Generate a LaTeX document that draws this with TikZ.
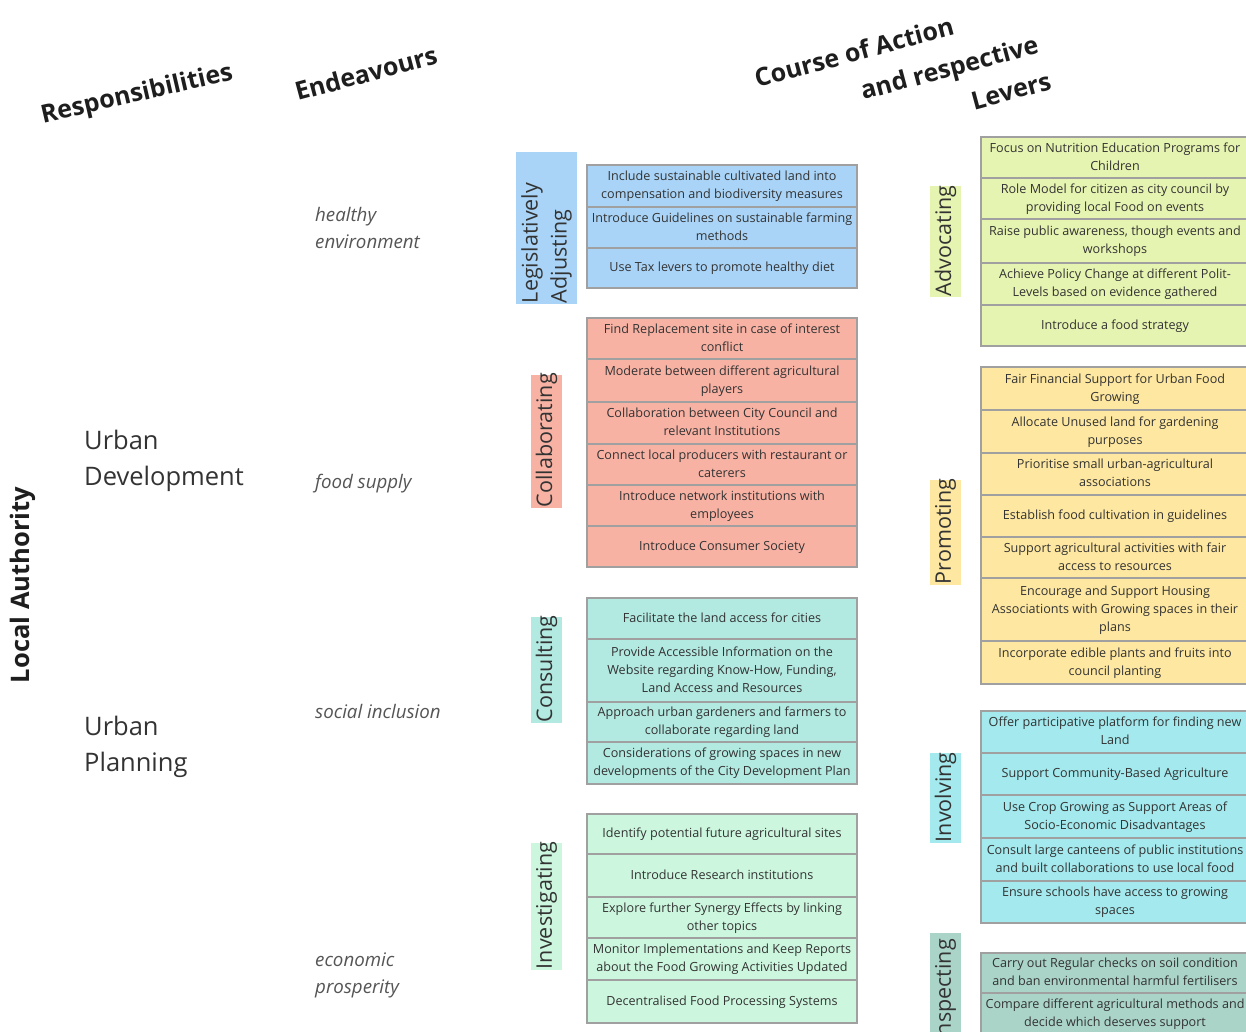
\documentclass[tikz,border=0pt]{standalone}
\usepackage{fontspec}
\setmainfont{Open Sans}
\definecolor{txt}{RGB}{51,51,51}
\definecolor{hdr}{RGB}{30,30,30}
\definecolor{itxt}{RGB}{85,85,85}
\definecolor{bord}{RGB}{160,160,160}
\definecolor{cblue}{RGB}{169,212,247}
\definecolor{csalmon}{RGB}{248,178,164}
\definecolor{cteal}{RGB}{178,233,225}
\definecolor{cmint}{RGB}{204,247,222}
\definecolor{cadv}{RGB}{230,244,177}
\definecolor{cprom}{RGB}{254,231,160}
\definecolor{cinv}{RGB}{163,233,237}
\definecolor{cinsp}{RGB}{170,212,200}
\newcommand\abox[6]{%
  \pgfmathsetmacro\bcy{(#3+#4)/2}%
  \pgfmathsetmacro\bh{#4-#3}%
  \node[#5, minimum height=\bh pt] (#1) at (#2,\bcy) {\raisebox{-2pt}{\begin{tabular}{@{}c@{}}#6\end{tabular}}};}
\newcommand\alabel[7]{% name, cx, top, bottom, width, fill, text
  \pgfmathsetmacro\lcy{(#3+#4)/2}%
  \pgfmathsetmacro\lh{#4-#3}%
  \pgfmathsetmacro\lt{#4-#3-2}%
  \node[vlabel, fill=#6, text width=\lt pt, minimum width=\lh pt, minimum height=#5pt] (#1) at (#2,\lcy) {#7};}
\tikzset{
  boxbase/.style={draw=bord, line width=1.3pt, align=center, inner sep=0pt, text=txt,
    font=\fontsize{12.6}{18}\selectfont},
  midbox/.style={boxbase, minimum width=270pt},
  rbox/.style={boxbase, minimum width=268pt},
  vlabel/.style={rotate=90, inner xsep=1pt, inner ysep=0pt, align=left, text=txt,
    font=\fontsize{21.5}{29}\selectfont},
  header/.style={font=\fontsize{25}{30}\selectfont\bfseries, text=hdr, inner sep=0pt},
  resp/.style={font=\fontsize{25.5}{36}\selectfont, text=txt, align=left, inner sep=0pt, anchor=west},
  endv/.style={font=\fontsize{18.7}{27}\selectfont\itshape, text=itxt, align=left, inner sep=0pt, anchor=west},
}
\begin{document}
\begin{tikzpicture}[x=1pt, y=-1pt]
\useasboundingbox (0,0) rectangle (1246,1031);
\fill[white] (0,0) rectangle (1246,1031);
\clip (0,0) rectangle (1246,1031);

% headers
\node[header, rotate=13] (hresp) at (137,95) {Responsibilities};
\node[header, rotate=15] (hend) at (366,73) {Endeavours};
\node[header, rotate=15] (hcoa1) at (854,52) {Course of Action};
\node[header, rotate=15] (hcoa2) at (950,70) {and respective};
\node[header, rotate=15] (hcoa3) at (1011,91) {Levers};

% left column
\node[font=\fontsize{25.5}{30}\selectfont\bfseries, text=hdr, rotate=90, inner sep=0pt] (la) at (23,585) {Local Authority};
\node[resp] (ud) at (84,461) {Urban\\Development};
\node[resp] (up) at (84,747) {Urban\\Planning};

\node[endv] (e1) at (315,228) {healthy\\environment};
\node[endv] (e2) at (315,484) {food supply};
\node[endv] (e3) at (315,711) {social inclusion};
\node[endv] (e4) at (315,975) {economic\\prosperity};

% middle labels
\alabel{lleg}{546.5}{152}{304}{61}{cblue}{Legislatively\\Adjusting}
\alabel{lcol}{546.5}{375}{508}{31}{csalmon}{Collaborating}
\alabel{lcon}{546.5}{617}{723}{31}{cteal}{Consulting}
\alabel{linv}{546.5}{843}{970}{31}{cmint}{Investigating}

% right labels
\alabel{ladv}{945.5}{186}{297}{31}{cadv}{Advocating}
\alabel{lpro}{945.5}{480}{585}{31}{cprom}{Promoting}
\alabel{linl}{945.5}{753}{843}{31}{cinv}{Involving}
\alabel{lins}{945.5}{933}{1043}{31}{cinsp}{Inspecting}

% middle boxes
\abox{b1}{722}{165}{207}{midbox, fill=cblue}{Include sustainable cultivated land into\\compensation and biodiversity measures}
\abox{b2}{722}{207}{248}{midbox, fill=cblue}{Introduce Guidelines on sustainable farming\\methods}
\abox{b3}{722}{248}{288}{midbox, fill=cblue}{Use Tax levers to promote healthy diet}

\abox{c1}{722}{318}{359}{midbox, fill=csalmon}{Find Replacement site in case of interest\\conflict}
\abox{c2}{722}{359}{402}{midbox, fill=csalmon}{Moderate between different agricultural\\players}
\abox{c3}{722}{402}{444}{midbox, fill=csalmon}{Collaboration between City Council and\\relevant Institutions}
\abox{c4}{722}{444}{485}{midbox, fill=csalmon}{Connect local producers with restaurant or\\caterers}
\abox{c5}{722}{485}{526}{midbox, fill=csalmon}{Introduce network institutions with\\employees}
\abox{c6}{722}{526}{567}{midbox, fill=csalmon}{Introduce Consumer Society}

\abox{d1}{722}{598}{639}{midbox, fill=cteal}{Facilitate the land access for cities}
\abox{d2}{722}{639}{702}{midbox, fill=cteal}{Provide Accessible Information on the\\Website regarding Know-How, Funding,\\Land Access and Resources}
\abox{d3}{722}{702}{742}{midbox, fill=cteal}{Approach urban gardeners and farmers to\\collaborate regarding land}
\abox{d4}{722}{742}{784}{midbox, fill=cteal}{Considerations of growing spaces in new\\developments of the City Development Plan}

\abox{i1}{722}{814}{854}{midbox, fill=cmint}{Identify potential future agricultural sites}
\abox{i2}{722}{854}{897}{midbox, fill=cmint}{Introduce Research institutions}
\abox{i3}{722}{897}{938}{midbox, fill=cmint}{Explore further Synergy Effects by linking\\other topics}
\abox{i4}{722}{938}{980}{midbox, fill=cmint}{Monitor Implementations and Keep Reports\\about the Food Growing Activities Updated}
\abox{i5}{722}{980}{1023}{midbox, fill=cmint}{Decentralised Food Processing Systems}

% right boxes
\abox{a1}{1115}{137}{178}{rbox, fill=cadv}{Focus on Nutrition Education Programs for\\Children}
\abox{a2}{1115}{178}{219}{rbox, fill=cadv}{Role Model for citizen as city council by\\providing local Food on events}
\abox{a3}{1115}{219}{263}{rbox, fill=cadv}{Raise public awareness, though events and\\workshops}
\abox{a4}{1115}{263}{305}{rbox, fill=cadv}{Achieve Policy Change at different Polit-\\Levels based on evidence gathered}
\abox{a5}{1115}{305}{346}{rbox, fill=cadv}{Introduce a food strategy}

\abox{p1}{1115}{367}{410}{rbox, fill=cprom}{Fair Financial Support for Urban Food\\Growing}
\abox{p2}{1115}{410}{453}{rbox, fill=cprom}{Allocate Unused land for gardening\\purposes}
\abox{p3}{1115}{453}{495}{rbox, fill=cprom}{Prioritise small urban-agricultural\\associations}
\abox{p4}{1115}{495}{537}{rbox, fill=cprom}{Establish food cultivation in guidelines}
\abox{p5}{1115}{537}{578}{rbox, fill=cprom}{Support agricultural activities with fair\\access to resources}
\abox{p6}{1115}{578}{641}{rbox, fill=cprom}{Encourage and Support Housing\\Associationts with Growing spaces in their\\plans}
\abox{p7}{1115}{641}{684}{rbox, fill=cprom}{Incorporate edible plants and fruits into\\council planting}

\abox{v1}{1115}{711}{753}{rbox, fill=cinv}{Offer participative platform for finding new\\Land}
\abox{v2}{1115}{753}{795}{rbox, fill=cinv}{Support Community-Based Agriculture}
\abox{v3}{1115}{795}{838}{rbox, fill=cinv}{Use Crop Growing as Support Areas of\\Socio-Economic Disadvantages}
\abox{v4}{1115}{838}{881}{rbox, fill=cinv}{Consult large canteens of public institutions\\and built collaborations to use local food}
\abox{v5}{1115}{881}{923}{rbox, fill=cinv}{Ensure schools have access to growing\\spaces}

\abox{s1}{1115}{953}{993}{rbox, fill=cinsp}{Carry out Regular checks on soil condition\\and ban environmental harmful fertilisers}
\abox{s2}{1115}{993}{1035}{rbox, fill=cinsp}{Compare different agricultural methods and\\decide which deserves support}
\end{tikzpicture}
\end{document}
